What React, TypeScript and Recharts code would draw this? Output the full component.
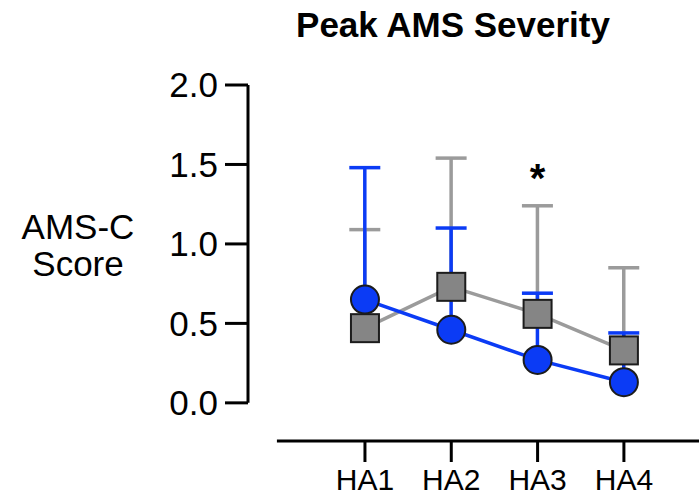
import React from "react";
import {
  Bar,
  ComposedChart,
  LabelList,
  Line,
  ReferenceLine,
  XAxis,
  YAxis,
} from "recharts";

const BLUE = "#0b3bf5";
const GRAY_LINE = "#9b9b9b";
const GRAY_FILL = "#858585";
const MARKER_EDGE = "#1c1c1c";
const FONT = "'Liberation Sans', Arial, Helvetica, sans-serif";

// values
const categories = ["HA1", "HA2", "HA3", "HA4"];
const blueMean = [0.65, 0.46, 0.27, 0.13];
const blueUpper = [1.48, 1.1, 0.69, 0.44];
const grayMean = [0.47, 0.73, 0.56, 0.33];
const grayUpper = [1.09, 1.54, 1.24, 0.85];
const significance = ["", "", "*", ""];
const starLevel = [null, null, 1.47, null];
const yTicks = [0, 0.5, 1, 1.5, 2];

// axis layout (offset Prism-style axes)
const X_MIN = -0.355;
const X_MAX = 4.87;
const X_LINE_START = -0.02;
const Y_MIN = -0.24;
const Y_MAX = 2;

const data = categories.map((name, i) => ({
  x: i + 1,
  name,
  blue: blueMean[i],
  blueRange: [blueMean[i], blueUpper[i]],
  gray: grayMean[i],
  grayRange: [grayMean[i], grayUpper[i]],
  star: significance[i],
  starY: starLevel[i],
}));

// one-sided (upper) error whisker drawn from a range bar
const whisker = (color: string) => (props: any) => {
  const { x, y, width, height } = props;
  if (x == null || y == null) return <g />;
  const cx = x + width / 2;
  return (
    <g>
      <line x1={cx} x2={cx} y1={y} y2={y + height} stroke={color} strokeWidth={3.5} />
      <line x1={cx - 15.5} x2={cx + 15.5} y1={y} y2={y} stroke={color} strokeWidth={3.5} />
    </g>
  );
};

const SquareDot = (props: any) => {
  const { cx, cy, index } = props;
  if (cx == null || cy == null) return null;
  return (
    <rect
      key={`sq-${index}`}
      x={cx - 14}
      y={cy - 14}
      width={28}
      height={28}
      fill={GRAY_FILL}
      stroke={MARKER_EDGE}
      strokeWidth={2}
    />
  );
};

const CircleDot = (props: any) => {
  const { cx, cy, index } = props;
  if (cx == null || cy == null) return null;
  return (
    <circle
      key={`ci-${index}`}
      cx={cx}
      cy={cy}
      r={14}
      fill={BLUE}
      stroke={MARKER_EDGE}
      strokeWidth={2}
    />
  );
};

const StarLabel = (props: any) => {
  const { x, y, value } = props;
  if (!value || x == null || y == null) return null;
  return (
    <text
      x={x}
      y={y}
      dy={23}
      textAnchor="middle"
      fontSize={40}
      fontWeight="bold"
      fontFamily={FONT}
      fill="#000"
    >
      {value}
    </text>
  );
};

const YTitle = (props: any) => {
  const { viewBox } = props;
  const cx = 78;
  const top = viewBox ? viewBox.y : 85;
  return (
    <text textAnchor="middle" fontSize={35} fontFamily={FONT} fill="#000">
      <tspan x={cx} y={top + 154}>
        AMS-C
      </tspan>
      <tspan x={cx} y={top + 191}>
        Score
      </tspan>
    </text>
  );
};

export default function App() {
  return (
    <div
      style={{
        position: "absolute",
        left: 0,
        top: 0,
        width: 699,
        height: 495,
        background: "#fff",
      }}
    >
      <div
        style={{
          position: "absolute",
          left: 253,
          top: 7,
          width: 400,
          textAlign: "center",
          fontFamily: FONT,
          fontWeight: "bold",
          fontSize: 35,
          lineHeight: "35px",
          color: "#000",
        }}
      >
        Peak AMS Severity
      </div>
      <ComposedChart
        width={699}
        height={495}
        data={data}
        margin={{ top: 85, right: 0, bottom: 0, left: 0 }}
        barSize={4}
        barGap={-4}
      >
        <XAxis
          dataKey="x"
          type="number"
          domain={[X_MIN, X_MAX]}
          ticks={[1, 2, 3, 4]}
          tickFormatter={(v: number) => categories[v - 1]}
          allowDataOverflow
          height={54}
          axisLine={false}
          tickLine={{ stroke: "#000", strokeWidth: 3 }}
          tickSize={21}
          tickMargin={7}
          tick={{ fill: "#000", fontSize: 30, fontFamily: FONT }}
        />
        <YAxis
          type="number"
          domain={[Y_MIN, Y_MAX]}
          ticks={yTicks}
          allowDataOverflow
          width={248}
          axisLine={false}
          tickLine={{ stroke: "#000", strokeWidth: 3 }}
          tickSize={23}
          tickMargin={7}
          tickFormatter={(v: number) => v.toFixed(1)}
          tick={{ fill: "#000", fontSize: 35, fontFamily: FONT }}
          label={<YTitle />}
        />
        <ReferenceLine
          segment={[
            { x: X_MIN, y: 0 },
            { x: X_MIN, y: Y_MAX },
          ]}
          stroke="#000"
          strokeWidth={3}
          ifOverflow="visible"
        />
        <ReferenceLine
          segment={[
            { x: X_LINE_START, y: Y_MIN },
            { x: X_MAX, y: Y_MIN },
          ]}
          stroke="#000"
          strokeWidth={3}
          ifOverflow="visible"
        />
        <Bar
          dataKey="grayRange"
          shape={whisker(GRAY_LINE)}
          isAnimationActive={false}
        />
        <Bar
          dataKey="blueRange"
          shape={whisker(BLUE)}
          isAnimationActive={false}
        />
        <Line
          dataKey="gray"
          stroke={GRAY_LINE}
          strokeWidth={3.5}
          dot={SquareDot}
          activeDot={false}
          isAnimationActive={false}
        />
        <Line
          dataKey="blue"
          stroke={BLUE}
          strokeWidth={3.5}
          dot={CircleDot}
          activeDot={false}
          isAnimationActive={false}
        />
        <Line
          dataKey="starY"
          stroke="none"
          dot={false}
          activeDot={false}
          isAnimationActive={false}
        >
          <LabelList dataKey="star" content={<StarLabel />} />
        </Line>
      </ComposedChart>
    </div>
  );
}
